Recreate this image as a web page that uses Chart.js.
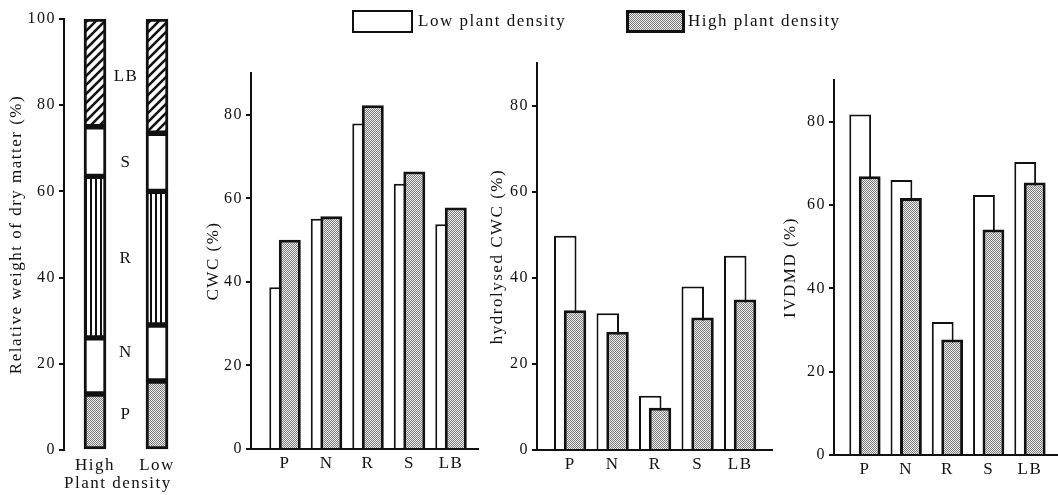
<!DOCTYPE html>
<html>
<head>
<meta charset="utf-8">
<title>Dry matter distribution, CWC and IVDMD by plant part</title>
<script src="https://cdn.jsdelivr.net/npm/chart.js@4.4.1/dist/chart.umd.min.js"></script>
<style>
    body { margin: 0; background: #fff; }
    #wrap { position: relative; width: 1058px; height: 495px; overflow: hidden; font-family: "Liberation Serif", serif; color: #111; }
    #wrap canvas { position: absolute; top: 0; }
    .key { position: absolute; top: 10px; height: 23px; box-sizing: border-box; border: 2px solid #111; background: #fff; }
    .key-label { position: absolute; top: 11px; font-size: 17px; letter-spacing: 1.5px; line-height: 20px; }
</style>
</head>
<body>
<div id="wrap">
    <canvas id="parts" width="200" height="495" style="left:0"></canvas>
    <canvas id="cwc" width="290" height="495" style="left:195px"></canvas>
    <canvas id="hcwc" width="297" height="495" style="left:480px"></canvas>
    <canvas id="ivdmd" width="288" height="495" style="left:770px"></canvas>
    <div id="legend"></div>
</div>
<script>
// plant parts and densities
const parts = ["P", "N", "R", "S", "LB"];
const densities = ["High", "Low"];
const seriesNames = ["Low plant density", "High plant density"];

// relative weight of dry matter (%), [high, low]
const shareP = [13, 16];
const shareN = [13, 13];
const shareR = [37.5, 31];
const shareS = [11.5, 13.5];
const shareLB = [25, 26.5];

// P, N, R, S, LB
const cwcLow = [38.7, 55.1, 77.9, 63.5, 53.8];
const cwcHigh = [50.1, 55.7, 82.3, 66.4, 57.8];
const hcwcLow = [49.8, 31.8, 12.6, 38, 45.2];
const hcwcHigh = [32.5, 27.5, 9.8, 30.8, 35];
const ivdmdLow = [81.7, 66, 31.9, 62.4, 70.3];
const ivdmdHigh = [66.9, 61.7, 27.7, 54.1, 65.4];

const shareTicks = [0, 20, 40, 60, 80, 100];
const pctTicks = [0, 20, 40, 60, 80];

const ink = "#111";
const font = { family: "'Liberation Serif', serif", size: 17 };
const tickFont = { family: "'Liberation Serif', serif", size: 16 };

Chart.defaults.color = ink;
Chart.defaults.animation = false;
Chart.defaults.plugins.legend.display = false;
Chart.defaults.plugins.tooltip.enabled = false;

// wider letter spacing like the printed figure
Chart.register({
    id: "spacing",
    beforeDraw(chart) {
        chart.ctx.letterSpacing = "1.5px";
    }
});

function tile(w, h, paint) {
    let c = document.createElement("canvas");
    c.width = w;
    c.height = h;
    let g = c.getContext("2d");
    g.fillStyle = "#fff";
    g.fillRect(0, 0, w, h);
    paint(g);
    return c;
}

const dotTile = tile(2, 2, (g) => {
    g.fillStyle = "#f2f2f2";
    g.fillRect(0, 0, 2, 2);
    g.fillStyle = "#777";
    g.fillRect(0, 0, 1, 1);
    g.fillRect(1, 1, 1, 1);
});
const stripeTile = tile(5, 1, (g) => {
    g.fillStyle = ink;
    g.fillRect(0, 0, 2, 1);
});
const hatchTile = tile(9, 9, (g) => {
    g.strokeStyle = ink;
    g.lineWidth = 2.5;
    g.beginPath();
    g.moveTo(-1, 10);
    g.lineTo(10, -1);
    g.moveTo(-2, 2);
    g.lineTo(2, -2);
    g.moveTo(7, 11);
    g.lineTo(11, 7);
    g.stroke();
});

const scratch = document.createElement("canvas").getContext("2d");
const dots = scratch.createPattern(dotTile, "repeat");
const stripes = scratch.createPattern(stripeTile, "repeat");
const hatch = scratch.createPattern(hatchTile, "repeat");

// legend
let legend = document.getElementById("legend");
legend.innerHTML =
    '<div class="key" style="left:352px;width:61px"></div>' +
    '<div class="key-label" style="left:418px">' + seriesNames[0] + '</div>' +
    '<div class="key" style="left:626px;width:59px;border-width:3px;background:url(' + dotTile.toDataURL() + ')"></div>' +
    '<div class="key-label" style="left:688px">' + seriesNames[1] + '</div>';

// part names between the two stacked bars
const partLabels = {
    id: "partLabels",
    afterDatasetsDraw(chart) {
        let ctx = chart.ctx;
        ctx.save();
        ctx.font = font.size + "px " + font.family;
        ctx.fillStyle = ink;
        ctx.textAlign = "center";
        ctx.textBaseline = "middle";
        chart.data.datasets.forEach((ds, i) => {
            let bars = chart.getDatasetMeta(i).data;
            let x = (bars[0].x + bars[1].x) / 2;
            let y = (bars[1].y + bars[1].base) / 2;
            ctx.fillText(ds.label, x, y);
        });
        ctx.restore();
    }
};

function yAxis(title, max, ticks, width, titlePad) {
    return {
        min: 0,
        max: max,
        afterFit: (scale) => { scale.width = width; },
        afterBuildTicks: (scale) => { scale.ticks = ticks.map((v) => ({ value: v })); },
        border: { color: ink, width: 2 },
        grid: { drawOnChartArea: false, color: ink, lineWidth: 2, tickLength: 5 },
        ticks: { font: tickFont, color: ink, padding: 3 },
        title: { display: true, text: title, font: font, color: ink, padding: { top: titlePad, bottom: 0 } }
    };
}

// stacked dry matter share
let shares = [shareP, shareN, shareR, shareS, shareLB];
let shareFills = [dots, "#fff", stripes, "#fff", hatch];
new Chart(document.getElementById("parts"), {
    type: "bar",
    data: {
        labels: densities,
        datasets: parts.map((p, i) => ({
            label: p,
            data: shares[i],
            backgroundColor: shareFills[i],
            borderColor: ink,
            borderWidth: 3,
            borderSkipped: false,
            barThickness: 22
        }))
    },
    options: {
        responsive: false,
        layout: { padding: { top: 19, right: 12, bottom: 0, left: 0 } },
        scales: {
            x: {
                stacked: true,
                afterFit: (scale) => { scale.height = 45; },
                border: { display: false },
                grid: { display: false, drawTicks: false },
                ticks: { font: font, color: ink, padding: 5 },
                title: { display: true, text: "Plant density", align: "start", font: font, color: ink, padding: { top: 0, bottom: 1 } }
            },
            y: Object.assign(yAxis("Relative weight of dry matter (%)", 100, shareTicks, 64, 6), { stacked: true })
        }
    },
    plugins: [partLabels]
});

// the high density bar sits in front of the low density one
const highInFront = {
    id: "highInFront",
    beforeDatasetsDraw(chart) {
        chart.getSortedVisibleDatasetMetas().forEach((meta) => meta.controller.draw());
        return false;
    }
};

function pairPanel(id, title, low, high, frame) {
    return new Chart(document.getElementById(id), {
        type: "bar",
        data: {
            labels: parts.map((p, i) => i + 1),
            datasets: [{
                label: seriesNames[0],
                data: low,
                backgroundColor: "#fff",
                borderColor: ink,
                borderWidth: 2,
                categoryPercentage: 0.46,
                barPercentage: 2.3
            }, {
                label: seriesNames[1],
                data: high,
                backgroundColor: dots,
                borderColor: ink,
                borderWidth: 3,
                categoryPercentage: 0.46,
                barPercentage: 2.3
            }]
        },
        options: {
            responsive: false,
            layout: { padding: { top: frame.top, right: frame.right, bottom: 0, left: 0 } },
            scales: {
                x: {
                    type: "linear",
                    offset: false,
                    min: frame.min,
                    max: frame.max,
                    afterFit: (scale) => { scale.height = 495 - frame.bottom; },
                    afterBuildTicks: (scale) => { scale.ticks = parts.map((p, i) => ({ value: i + 1 })); },
                    border: { color: ink, width: 2 },
                    grid: { display: false, drawTicks: false },
                    ticks: { font: font, color: ink, padding: 4, callback: (v) => parts[v - 1] }
                },
                y: yAxis(title, 90, pctTicks, frame.axis, frame.titlePad)
            }
        },
        plugins: [highInFront]
    });
}

pairPanel("cwc", "CWC (%)", cwcLow, cwcHigh,
    { top: 73, bottom: 449, right: 7, axis: 56, titlePad: 8, min: 0.18, max: 5.65 });
pairPanel("hcwc", "hydrolysed CWC (%)", hcwcLow, hcwcHigh,
    { top: 63, bottom: 450, right: 5, axis: 57, titlePad: 7, min: 0.22, max: 5.75 });
pairPanel("ivdmd", "IVDMD (%)", ivdmdLow, ivdmdHigh,
    { top: 80, bottom: 455, right: 0, axis: 64, titlePad: 10, min: 0.25, max: 5.68 });
</script>
</body>
</html>
